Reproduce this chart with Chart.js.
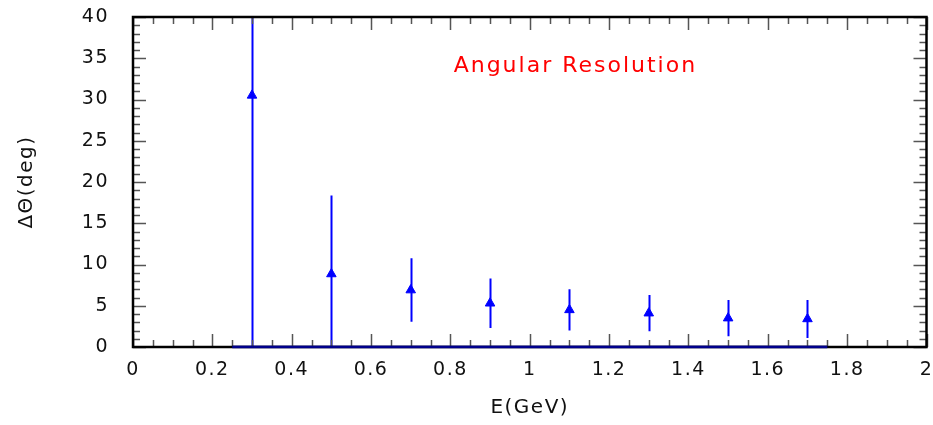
<!DOCTYPE html>
<html>
<head>
<meta charset="utf-8">
<script src="https://cdn.jsdelivr.net/npm/chart.js@4"></script>
<style>
  html, body { margin: 0; padding: 0; background: #fff; }
  #wrap { width: 933px; height: 425px; }
</style>
</head>
<body>
<div id="wrap"><canvas id="resolutionChart"></canvas></div>
<script>
// points
const energies = [0.3, 0.5, 0.7, 0.9, 1.1, 1.3, 1.5, 1.7];
const resolution = [30.5, 8.85, 6.9, 5.3, 4.5, 4.1, 3.5, 3.4];
const resolutionErr = [31, 9.5, 3.85, 3.0, 2.5, 2.2, 2.2, 2.3];

// flat baseline drawn under the points
const baselineX = [0.25, 1.75];
const baselineY = [0, 0];

const xTicks = [0, 0.2, 0.4, 0.6, 0.8, 1, 1.2, 1.4, 1.6, 1.8, 2];
const yTicks = [0, 5, 10, 15, 20, 25, 30, 35, 40];

const FONT = '"DejaVu Sans", sans-serif';

// no extra room for the end labels, chart area stays where the frame is
function noPad(scale) {
  scale.paddingLeft = 0;
  scale.paddingRight = 0;
  scale.paddingTop = 0;
  scale.paddingBottom = 0;
}

// error bars, frame, inward ticks and the label in the plot
const rootStyle = {
  id: 'rootStyle',
  beforeDraw(chart) {
    // the reference font is wide, spread the letters a little
    chart.ctx.letterSpacing = '1.5px';
  },
  beforeDatasetsDraw(chart) {
    const { ctx, chartArea: a, scales: { x, y } } = chart;
    ctx.save();
    ctx.beginPath();
    ctx.rect(a.left, a.top, a.right - a.left, a.bottom - a.top);
    ctx.clip();
    ctx.strokeStyle = '#0000ff';
    ctx.lineWidth = 2;
    energies.forEach((e, i) => {
      const px = Math.round(x.getPixelForValue(e)) + 0.5;
      ctx.beginPath();
      ctx.moveTo(px, y.getPixelForValue(resolution[i] - resolutionErr[i]));
      ctx.lineTo(px, y.getPixelForValue(resolution[i] + resolutionErr[i]));
      ctx.stroke();
    });
    ctx.restore();
  },
  afterDraw(chart) {
    const { ctx, chartArea: a, scales: { x, y } } = chart;
    ctx.save();
    // tick marks pointing inward on all four sides
    ctx.strokeStyle = '#555';
    ctx.lineWidth = 1.5;
    for (let k = 0; k <= 40; k++) {
      const v = k * 0.05;
      const px = Math.round(x.getPixelForValue(v)) + 0.5;
      const len = k % 4 === 0 ? 13 : 7;
      ctx.beginPath();
      ctx.moveTo(px, a.bottom); ctx.lineTo(px, a.bottom - len);
      ctx.moveTo(px, a.top); ctx.lineTo(px, a.top + len);
      ctx.stroke();
    }
    for (let k = 0; k <= 40; k++) {
      const py = Math.round(y.getPixelForValue(k)) + 0.5;
      const len = k % 5 === 0 ? 13 : 7;
      ctx.beginPath();
      ctx.moveTo(a.left, py); ctx.lineTo(a.left + len, py);
      ctx.moveTo(a.right, py); ctx.lineTo(a.right - len, py);
      ctx.stroke();
    }
    // frame
    ctx.strokeStyle = '#000';
    ctx.lineWidth = 2.5;
    ctx.strokeRect(a.left, a.top, a.right - a.left, a.bottom - a.top);
    // baseline drawn again over the frame
    ctx.strokeStyle = '#00008b';
    ctx.lineWidth = 2.5;
    ctx.beginPath();
    ctx.moveTo(x.getPixelForValue(baselineX[0]), y.getPixelForValue(baselineY[0]));
    ctx.lineTo(x.getPixelForValue(baselineX[1]), y.getPixelForValue(baselineY[1]));
    ctx.stroke();
    // label inside the plot
    ctx.letterSpacing = '2px';
    ctx.fillStyle = '#ff0000';
    ctx.font = '22px ' + FONT;
    ctx.textAlign = 'center';
    ctx.textBaseline = 'middle';
    ctx.fillText('Angular Resolution', x.getPixelForValue(1.115), y.getPixelForValue(34.05));
    ctx.restore();
  }
};

const ctx = document.getElementById('resolutionChart').getContext('2d');
const resolutionChart = new Chart(ctx, {
  type: 'scatter',
  data: {
    datasets: [{
      label: 'Angular Resolution',
      data: energies.map((e, i) => ({ x: e, y: resolution[i] })),
      pointStyle: 'triangle',
      pointRadius: 5.5,
      backgroundColor: '#0000ff',
      borderColor: '#0000ff',
      borderWidth: 1,
      order: 0
    }, {
      type: 'line',
      label: 'baseline',
      data: baselineX.map((v, i) => ({ x: v, y: baselineY[i] })),
      borderColor: '#00008b',
      borderWidth: 2.5,
      pointRadius: 0,
      order: 1
    }]
  },
  options: {
    responsive: true,
    maintainAspectRatio: false,
    animation: false,
    layout: { padding: { left: 0, right: 5, top: 17, bottom: 0 } },
    plugins: {
      legend: { display: false },
      tooltip: { enabled: false }
    },
    scales: {
      x: {
        type: 'linear',
        min: 0,
        max: 2,
        afterFit(scale) { scale.height = 78; noPad(scale); },
        afterBuildTicks(scale) { scale.ticks = xTicks.map(v => ({ value: v })); },
        grid: { display: false, drawTicks: false },
        border: { display: false },
        ticks: {
          color: '#111',
          font: { family: FONT, size: 19 },
          padding: 12,
          maxRotation: 0,
          autoSkip: false,
          callback: v => String(v)
        },
        title: {
          display: true,
          text: 'E(GeV)',
          color: '#111',
          font: { family: FONT, size: 20 },
          padding: { top: 0, bottom: 5 }
        }
      },
      y: {
        type: 'linear',
        min: 0,
        max: 40,
        afterFit(scale) { scale.width = 133; noPad(scale); },
        afterBuildTicks(scale) { scale.ticks = yTicks.map(v => ({ value: v })); },
        grid: { display: false, drawTicks: false },
        border: { display: false },
        ticks: {
          color: '#111',
          font: { family: FONT, size: 19 },
          padding: 24,
          autoSkip: false
        },
        title: {
          display: true,
          text: 'ΔΘ(deg)',
          color: '#111',
          font: { family: FONT, size: 20 },
          padding: { top: 15, bottom: 0 }
        }
      }
    }
  },
  plugins: [rootStyle]
});
</script>
</body>
</html>
